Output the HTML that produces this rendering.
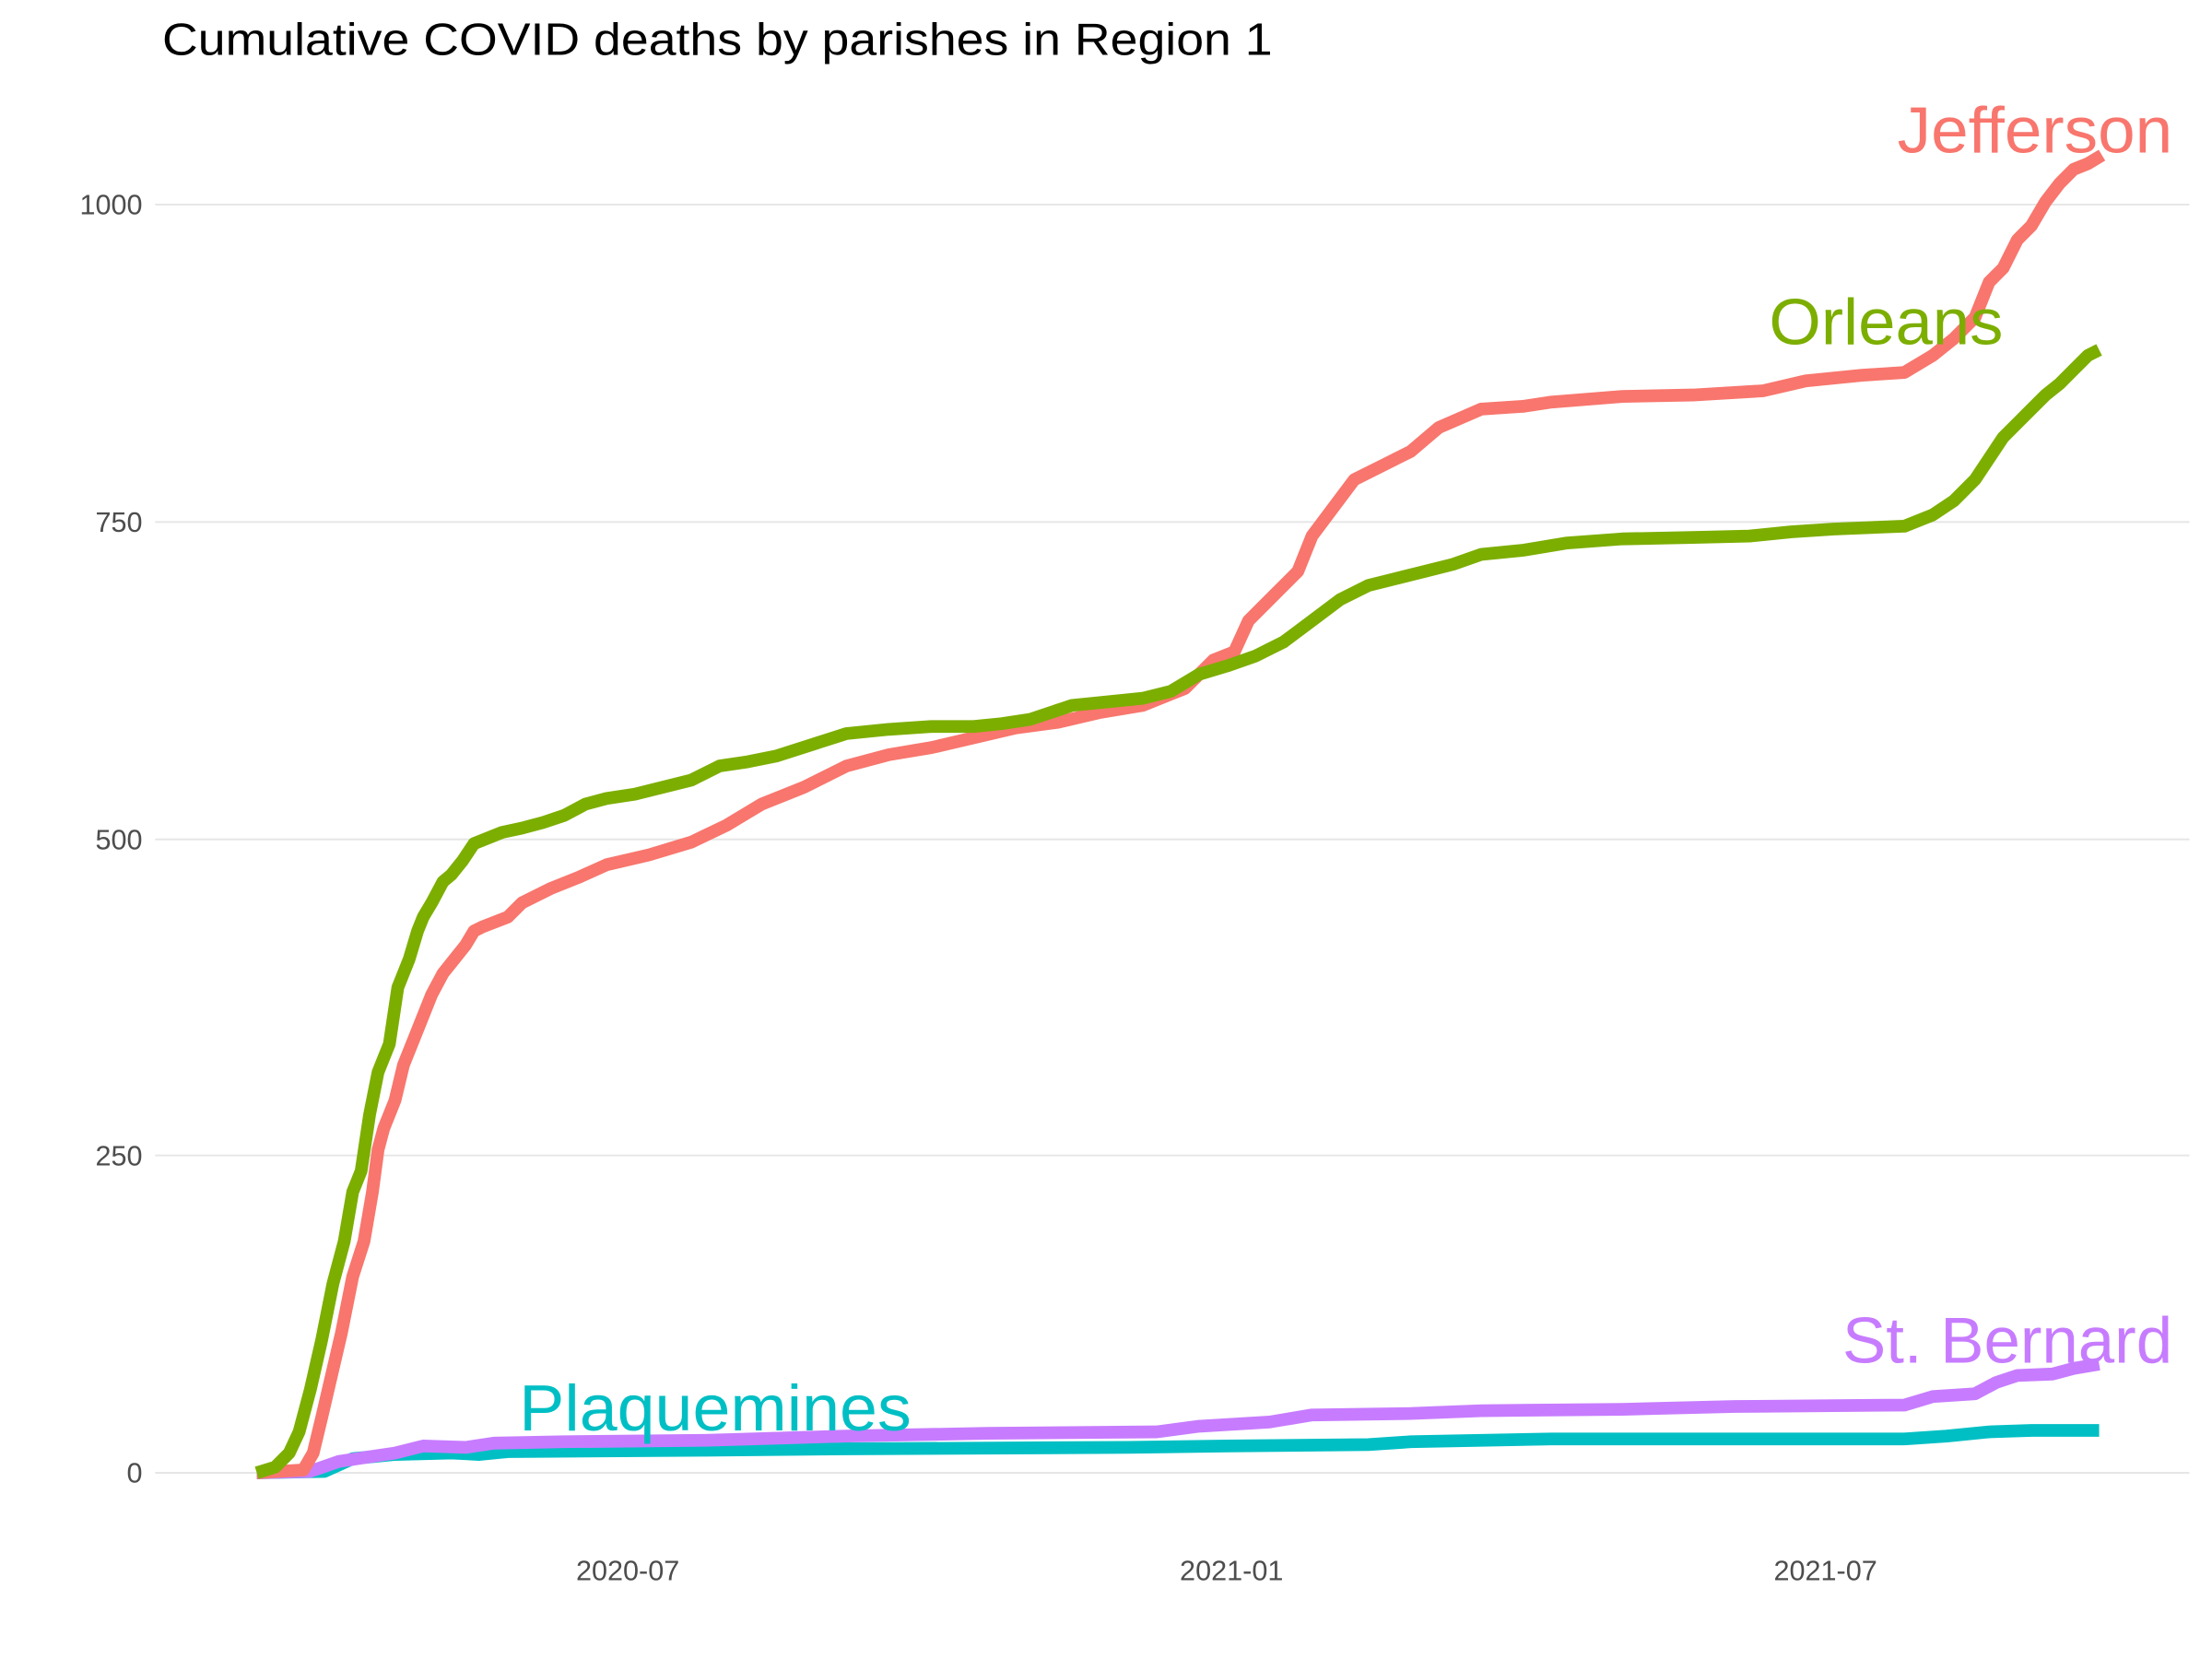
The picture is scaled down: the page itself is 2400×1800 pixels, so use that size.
<!DOCTYPE html>
<html><head><meta charset="utf-8"><style>html,body{margin:0;padding:0;background:#fff}svg{display:block}</style></head>
<body>
<svg width="2400" height="1800" viewBox="0 0 1568 1176" xmlns="http://www.w3.org/2000/svg" font-family="Liberation Sans, DejaVu Sans, sans-serif">
<rect width="1568" height="1176" fill="#fff"/>
<g stroke="#e6e6e6" stroke-width="1.3">
<line x1="110" x2="1552" y1="145" y2="145"/>
<line x1="110" x2="1552" y1="370" y2="370"/>
<line x1="110" x2="1552" y1="595" y2="595"/>
<line x1="110" x2="1552" y1="819" y2="819"/>
<line x1="110" x2="1552" y1="1044" y2="1044"/>
</g>
<g fill="#4d4d4d" font-size="20" text-anchor="end">
<text x="101" y="152">1000</text>
<text x="101" y="377">750</text>
<text x="101" y="602">500</text>
<text x="101" y="826">250</text>
<text x="101" y="1051">0</text>
</g>
<g fill="#4d4d4d" font-size="20" text-anchor="middle">
<text x="445" y="1120">2020-07</text>
<text x="873" y="1120">2021-01</text>
<text x="1294" y="1120">2021-07</text>
</g>
<text x="115" y="39" font-size="32" fill="#000" textLength="787" lengthAdjust="spacingAndGlyphs">Cumulative COVID deaths by parishes in Region 1</text>
<g fill="none" stroke-width="9" stroke-linejoin="round">
<polyline stroke="#00BFC4" points="182,1044 230,1043 250,1034 280,1031 320,1030 340,1031 360,1029 500,1028 600,1027 800,1026 870,1025 970,1024 1000,1022 1100,1020 1350,1020 1380,1018 1410,1015 1440,1014 1488,1014"/>
<polyline stroke="#C77CFF" points="182,1044 220,1043 240,1036 260,1033 280,1030 300,1025 330,1026 350,1023 400,1022 500,1021 600,1018 700,1016 820,1015 850,1011 900,1008 930,1003 1000,1002 1050,1000 1150,999 1230,997 1350,996 1370,990 1400,988 1415,980 1430,975 1455,974 1470,970 1488,967"/>
<polyline stroke="#F8766D" points="182,1044 215,1042 222,1030 228,1005 235,975 242,945 250,905 258,880 264,845 268,815 272,800 280,780 286,755 292,740 300,720 306,705 314,690 322,680 330,670 336,660 342,657 360,650 370,640 390,630 410,622 430,613 460,606 490,597 515,585 540,570 570,558 600,543 630,535 660,530 690,523 720,516 750,512 780,505 810,500 840,488 860,468 875,462 885,440 900,425 920,405 930,380 945,360 960,340 980,330 1000,320 1020,303 1050,290 1080,288 1100,285 1150,281 1200,280 1250,277 1280,270 1320,266 1350,264 1370,252 1385,240 1400,225 1410,200 1420,190 1430,170 1440,160 1450,143 1460,130 1470,120 1480,116 1490,110"/>
<polyline stroke="#7CAE00" points="182,1044 195,1040 205,1030 212,1015 220,985 228,950 236,910 244,880 250,845 256,830 262,790 268,760 276,740 282,700 290,680 296,660 300,650 306,640 314,625 320,620 328,610 336,598 346,594 356,590 370,587 385,583 400,578 415,570 430,566 450,563 470,558 490,553 510,543 530,540 550,536 575,528 600,520 630,517 660,515 690,515 710,513 730,510 760,500 790,497 810,495 830,490 850,478 870,472 890,465 910,455 930,440 950,425 970,415 990,410 1010,405 1030,400 1050,393 1080,390 1110,385 1150,382 1200,381 1240,380 1270,377 1300,375 1350,373 1370,365 1385,355 1400,340 1410,325 1420,310 1430,300 1440,290 1450,280 1460,272 1470,262 1480,252 1488,248"/>
</g>
<g font-size="46">
<text x="1345" y="108" fill="#F8766D" textLength="195" lengthAdjust="spacingAndGlyphs">Jefferson</text>
<text x="1254" y="244" fill="#7CAE00" textLength="166" lengthAdjust="spacingAndGlyphs">Orleans</text>
<text x="1306" y="966" fill="#C77CFF" textLength="234" lengthAdjust="spacingAndGlyphs">St. Bernard</text>
<text x="368" y="1014" fill="#00BFC4" textLength="278" lengthAdjust="spacingAndGlyphs">Plaquemines</text>
</g>
</svg>
</body></html>
